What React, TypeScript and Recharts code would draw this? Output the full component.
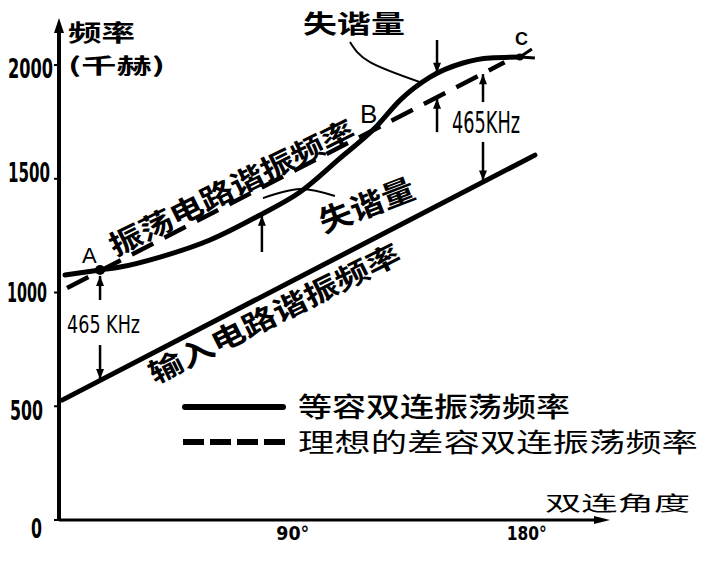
import React from 'react';
import { ComposedChart, Line, XAxis, YAxis, ReferenceLine, ReferenceDot, Legend } from 'recharts';

// ---- data (angle in degrees, frequency in kHz) ----
const angleTicks = [90, 180];
const angleTickLabels = ['90°', '180°'];
const freqTicks = [0, 500, 1000, 1500, 2000];

// 等容双连振荡频率 (solid curve)
const oscAngle = [2.3, 15.8, 23.5, 38.9, 58.1, 77.4, 92.8, 108.2, 121.6, 131.3, 142.8, 155.5, 165.9, 177.4];
const oscFreq = [1077, 1099, 1112, 1156, 1231, 1341, 1442, 1591, 1723, 1846, 1947, 2009, 2031, 2035];
// 理想的差容双连振荡频率 (dashed line)
const idealAngle = [3.1, 171.5];
const idealFreq = [1020, 2012];
// 输入电路谐振频率 (straight line)
const inputAngle = [1.2, 183.2];
const inputFreq = [527, 1604];
// leader lines for 失谐量 labels
const leaderTopAngle = [112, 119.7, 139];
const leaderTopFreq = [2101, 2013, 1925];
const leaderMidAngle = [78.5, 92.8, 106.2];
const leaderMidFreq = [1415, 1455, 1424];

const zip = (a: number[], v: number[]) => a.map((x, i) => ({ a: x, v: v[i] }));
const oscData = zip(oscAngle, oscFreq);
const idealData = zip(idealAngle, idealFreq);
const inputData = zip(inputAngle, inputFreq);
const leaderTop = zip(leaderTopAngle, leaderTopFreq);
const leaderMid = zip(leaderMidAngle, leaderMidFreq);

const CJK = "'Noto Sans CJK SC', 'Noto Sans', sans-serif";
const NARROW = "'Liberation Sans Narrow', 'DejaVu Sans Condensed', 'Liberation Sans', sans-serif";
const SANS = "'Liberation Sans', 'DejaVu Sans', sans-serif";

const yTickStyle: Record<number, { right: number; len: number; dy: number }> = {
  0: { right: 42, len: 11, dy: 8 },
  500: { right: 43, len: 33, dy: 4 },
  1000: { right: 47, len: 40, dy: 0 },
  1500: { right: 50, len: 42, dy: -6 },
  2000: { right: 53, len: 45, dy: 3 },
};

const YTick = (props: any) => {
  const { y, payload } = props;
  const s = yTickStyle[payload.value] || { right: 50, len: 40, dy: 0 };
  return (
    <text x={s.right} y={y + s.dy} dy="0.36em" textAnchor="end" fontFamily={NARROW} fontWeight={700}
      fontSize={27} fill="#000" textLength={s.len} lengthAdjust="spacingAndGlyphs">
      {payload.value}
    </text>
  );
};

const XTick = (props: any) => {
  const { x, y, payload } = props;
  const idx = angleTicks.indexOf(payload.value);
  const label = angleTickLabels[idx] ?? String(payload.value);
  return (
    <text x={x} y={y + 20} textAnchor="middle" fontFamily={NARROW} fontWeight={700} fontSize={20}
      fill="#000" textLength={idx === 0 ? 33 : 40} lengthAdjust="spacingAndGlyphs">
      {label}
    </text>
  );
};

type TxtOpts = {
  size: number; weight?: number; len?: number; rot?: number; anchor?: 'start' | 'middle' | 'end';
  family?: string; central?: boolean;
};
const txt = (t: string, o: TxtOpts) => (p: any) => {
  const { cx, cy } = p;
  return (
    <text x={cx} y={cy} fontSize={o.size} fontWeight={o.weight ?? 700} fontFamily={o.family ?? CJK}
      textAnchor={o.anchor ?? 'start'} dominantBaseline={o.central ? 'central' : undefined}
      fill="#000" textLength={o.len} lengthAdjust={o.len ? 'spacingAndGlyphs' : undefined}
      transform={o.rot ? `rotate(${o.rot} ${cx} ${cy})` : undefined}>
      {t}
    </text>
  );
};

const arrow = (p: any) => {
  const { x1, y1, x2, y2 } = p;
  const dir = y2 < y1 ? -1 : 1;
  const hl = 10;
  const hw = 4;
  return (
    <g>
      <line x1={x1} y1={y1} x2={x2} y2={y2} stroke="#000" strokeWidth={2.5} />
      <polygon points={`${x2},${y2} ${x2 - hw},${y2 - dir * hl} ${x2 + hw},${y2 - dir * hl}`} fill="#000" />
    </g>
  );
};

const upHead = (p: any) => (
  <polygon points={`${p.cx},${p.cy - 7} ${p.cx - 5},${p.cy + 8} ${p.cx + 5},${p.cy + 8}`} fill="#000" />
);
const rightHead = (p: any) => (
  <polygon points={`${p.cx + 8},${p.cy} ${p.cx - 8},${p.cy - 4} ${p.cx - 8},${p.cy + 4}`} fill="#000" />
);
const pointA = (p: any) => (
  <g>
    <circle cx={p.cx} cy={p.cy} r={5} fill="#000" />
    <line x1={p.cx - 9} y1={p.cy + 1} x2={p.cx + 9} y2={p.cy - 1} stroke="#000" strokeWidth={3} />
  </g>
);
const pointC = (p: any) => (
  <g>
    <circle cx={p.cx} cy={p.cy} r={3.5} fill="#000" />
    <line x1={p.cx} y1={p.cy} x2={p.cx + 12} y2={p.cy - 8} stroke="#000" strokeWidth={3} />
    <line x1={p.cx} y1={p.cy} x2={p.cx + 15} y2={p.cy + 1} stroke="#000" strokeWidth={3} />
  </g>
);

const renderLegend = (props: any) => {
  const items = (props.payload || [])
    .filter((e: any) => e.type !== 'none')
    .slice()
    .sort((x: any, y: any) => {
      const dx = x.payload && x.payload.strokeDasharray ? 1 : 0;
      const dy = y.payload && y.payload.strokeDasharray ? 1 : 0;
      return dx - dy;
    });
  return (
    <svg width={520} height={72} style={{ display: 'block', overflow: 'visible' }}>
      {items.map((e: any, i: number) => {
        const dashed = !!(e.payload && e.payload.strokeDasharray);
        const ly = i === 0 ? 15 : 50;
        const ty = i === 0 ? 25 : 60;
        return (
          <g key={i}>
            <line x1={dashed ? 0 : 2} y1={ly} x2={dashed ? 102 : 100} y2={ly} stroke="#000" strokeWidth={6}
              strokeDasharray={dashed ? '21 6' : undefined} strokeLinecap={dashed ? 'butt' : 'round'} />
            <text x={115} y={ty} fontFamily={CJK} fontSize={i === 0 ? 27 : 26} fontWeight={i === 0 ? 500 : 400}
              fill="#000" textLength={i === 0 ? 272 : 400} lengthAdjust="spacingAndGlyphs">
              {e.value}
            </text>
          </g>
        );
      })}
    </svg>
  );
};

export default function App() {
  return (
    <div style={{ position: 'absolute', left: 0, top: 0, background: '#fff' }}>
      <ComposedChart width={702} height={567} margin={{ top: 25, right: 100, left: 0, bottom: 17 }}>
        <XAxis dataKey="a" type="number" domain={[0, 209]} ticks={angleTicks} allowDataOverflow
          axisLine={{ stroke: '#000', strokeWidth: 3 }} tickLine={false} tickSize={0} tickMargin={0}
          height={30} tick={<XTick />} interval={0} />
        <YAxis dataKey="v" type="number" domain={[0, 2176]} ticks={freqTicks} allowDataOverflow
          axisLine={{ stroke: '#000', strokeWidth: 4 }} tickLine={{ stroke: '#000', strokeWidth: 2 }}
          tickSize={5} tickMargin={2} width={59} tick={<YTick />} interval={0} />
        <Legend content={renderLegend} layout="horizontal" verticalAlign="middle" align="center"
          wrapperStyle={{ left: 183, top: 392, width: 520, height: 72 }} />

        <Line data={inputData} dataKey="v" name="输入电路谐振频率" type="linear" stroke="#000" strokeWidth={5}
          dot={false} isAnimationActive={false} legendType="none" strokeLinecap="round" />
        <Line data={oscData} dataKey="v" name="等容双连振荡频率" type="monotone" stroke="#000" strokeWidth={5}
          dot={false} isAnimationActive={false} strokeLinecap="round" />
        <Line data={idealData} dataKey="v" name="理想的差容双连振荡频率" type="linear" stroke="#000" strokeWidth={4.5}
          strokeDasharray="24 12.5" dot={false} isAnimationActive={false} />
        <Line data={leaderTop} dataKey="v" name="leaderTop" type="natural" stroke="#000" strokeWidth={2}
          dot={false} isAnimationActive={false} legendType="none" />
        <Line data={leaderMid} dataKey="v" name="leaderMid" type="natural" stroke="#000" strokeWidth={2}
          dot={false} isAnimationActive={false} legendType="none" />

        {/* axis arrowheads */}
        <ReferenceDot x={0} y={2176} r={0} ifOverflow="visible" shape={upHead} />
        <ReferenceDot x={209} y={0} r={0} ifOverflow="visible" shape={rightHead} />

        {/* arrows */}
        <ReferenceLine segment={[{ x: 163.2, y: 1837 }, { x: 163.2, y: 1960 }]} ifOverflow="visible" shape={arrow} />
        <ReferenceLine segment={[{ x: 163.2, y: 1662 }, { x: 163.2, y: 1492 }]} ifOverflow="visible" shape={arrow} />
        <ReferenceLine segment={[{ x: 15.8, y: 967 }, { x: 15.8, y: 1073 }]} ifOverflow="visible" shape={arrow} />
        <ReferenceLine segment={[{ x: 15.8, y: 769 }, { x: 15.8, y: 620 }]} ifOverflow="visible" shape={arrow} />
        <ReferenceLine segment={[{ x: 78.1, y: 1178 }, { x: 78.1, y: 1338 }]} ifOverflow="visible" shape={arrow} />
        <ReferenceLine segment={[{ x: 145.5, y: 2110 }, { x: 145.5, y: 1966 }]} ifOverflow="visible" shape={arrow} />
        <ReferenceLine segment={[{ x: 145.5, y: 1705 }, { x: 145.5, y: 1852 }]} ifOverflow="visible" shape={arrow} />

        {/* points */}
        <ReferenceDot x={15.8} y={1099} r={0} ifOverflow="visible" shape={pointA} />
        <ReferenceDot x={177.4} y={2035} r={0} ifOverflow="visible" shape={pointC} />

        {/* texts */}
        <ReferenceDot x={3.5} y={2106} r={0} ifOverflow="visible" shape={txt('频率', { size: 23, len: 67 })} />
        <ReferenceDot x={3.5} y={1965} r={0} ifOverflow="visible" shape={txt('(千赫)', { size: 21, len: 97 })} />
        <ReferenceDot x={93.9} y={2141} r={0} ifOverflow="visible" shape={txt('失谐量', { size: 25, len: 102 })} />
        <ReferenceDot x={115.9} y={1745} r={0} ifOverflow="visible" shape={txt('B', { size: 26, weight: 400, family: SANS })} />
        <ReferenceDot x={8.9} y={1130} r={0} ifOverflow="visible" shape={txt('A', { size: 22, weight: 400, family: SANS })} />
        <ReferenceDot x={175.5} y={2088} r={0} ifOverflow="visible" shape={txt('C', { size: 18, weight: 700, family: SANS })} />
        <ReferenceDot x={151.3} y={1701} r={0} ifOverflow="visible" shape={txt('465KHz', { size: 30, weight: 400, family: NARROW, len: 68 })} />
        <ReferenceDot x={3.1} y={822} r={0} ifOverflow="visible" shape={txt('465 KHz', { size: 25, weight: 400, family: NARROW, len: 73 })} />
        <ReferenceDot x={118.2} y={1393} r={0} ifOverflow="visible" shape={txt('失谐量', { size: 30, len: 100, rot: -21, anchor: 'middle', central: true })} />
        <ReferenceDot x={66.2} y={1468} r={0} ifOverflow="visible" shape={txt('振荡电路谐振频率', { size: 28, len: 270, rot: -26.3, anchor: 'middle', central: true })} />
        <ReferenceDot x={82.6} y={914} r={0} ifOverflow="visible" shape={txt('输入电路谐振频率', { size: 28, len: 277, rot: -26.5, anchor: 'middle', central: true })} />
        <ReferenceDot x={187.1} y={40} r={0} ifOverflow="visible" shape={txt('双连角度', { size: 20, weight: 400, len: 145 })} />
      </ComposedChart>
    </div>
  );
}
